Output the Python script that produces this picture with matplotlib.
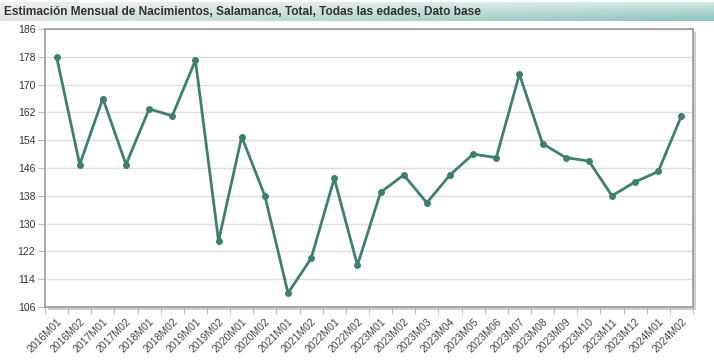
import numpy as np
import matplotlib
matplotlib.use('Agg')
from matplotlib import pyplot as plt
from matplotlib.patches import Rectangle

plt.rcParams['font.family'] = ['Liberation Sans', 'DejaVu Sans']

periods = ['2016M01', '2016M02', '2017M01', '2017M02', '2018M01', '2018M02',
           '2019M01', '2019M02', '2020M01', '2020M02', '2021M01', '2021M02',
           '2022M01', '2022M02', '2023M01', '2023M02', '2023M03', '2023M04',
           '2023M05', '2023M06', '2023M07', '2023M08', '2023M09', '2023M10',
           '2023M11', '2023M12', '2024M01', '2024M02']
births = [178, 147, 166, 147, 163, 161, 177, 125, 155, 138, 110, 120,
          143, 118, 139, 144, 136, 144, 150, 149, 173, 153, 149, 148,
          138, 142, 145, 161]
y_ticks = [106, 114, 122, 130, 138, 146, 154, 162, 170, 178, 186]
title = 'Estimación Mensual de Nacimientos, Salamanca, Total, Todas las edades, Dato base'

W, H = 714, 364
fig = plt.figure(figsize=(W / 100, H / 100), dpi=100)

# title bar with gradient (gray on the left -> teal on the right, lighter at top)
bar = fig.add_axes([0, 1 - 21 / H, 1, 19 / H])
h = np.linspace(0, 1, 200)[None, :, None]
v = np.linspace(0, 1, 20)[:, None, None]
left_top = np.array([0.94, 0.94, 0.94])
left_bot = np.array([0.87, 0.89, 0.88])
right_top = np.array([0.82, 0.91, 0.89])
right_bot = np.array([0.55, 0.77, 0.74])
top = left_top + (right_top - left_top) * h
bot = left_bot + (right_bot - left_bot) * h
grad = top + (bot - top) * v
bar.imshow(grad, aspect='auto', extent=[0, 1, 0, 1])
bar.set_axis_off()
bar.text(0.006, 0.45, title, fontsize=8.6, fontweight='bold', color='#333333',
         va='center', ha='left', transform=bar.transAxes)

# plot area with a drop shadow
x0, y0, pw, ph = 45, 307, 648, 278
fig.patches.append(Rectangle(((x0 + 3) / W, (H - y0 - 3) / H), pw / W, ph / H,
                             transform=fig.transFigure, facecolor='#cfcfcf',
                             edgecolor='none', zorder=0))
ax = fig.add_axes([x0 / W, (H - y0) / H, pw / W, ph / H], zorder=1)
ax.set_facecolor('white')

x = np.arange(len(periods))
ax.plot(x, births, color='#3f7f72', lw=2, marker='o', ms=4, zorder=3)

ax.set_xlim(-0.5, len(periods) - 0.5)
ax.set_ylim(106, 186)
ax.set_yticks(y_ticks)
ax.set_yticklabels([str(t) for t in y_ticks], fontsize=7.5, color='#333333')
ax.yaxis.grid(True, color='#dddddd', lw=1)
ax.set_axisbelow(True)

ax.set_xticks(np.arange(-0.5, len(periods), 1))
ax.set_xticklabels([])
ax.set_xticks(x, minor=True)
ax.set_xticklabels(periods, minor=True, rotation=45, ha='right',
                   rotation_mode='anchor', fontsize=7.5, color='#444444')
ax.tick_params(axis='x', which='major', length=5, color='#bbbbbb', direction='out')
ax.tick_params(axis='x', which='minor', length=0, pad=7)
ax.tick_params(axis='y', length=5, color='#bbbbbb', pad=2)

for s in ax.spines.values():
    s.set_color('#999999')
    s.set_linewidth(1.2)

fig.savefig('out.png', dpi=100, facecolor='white')
